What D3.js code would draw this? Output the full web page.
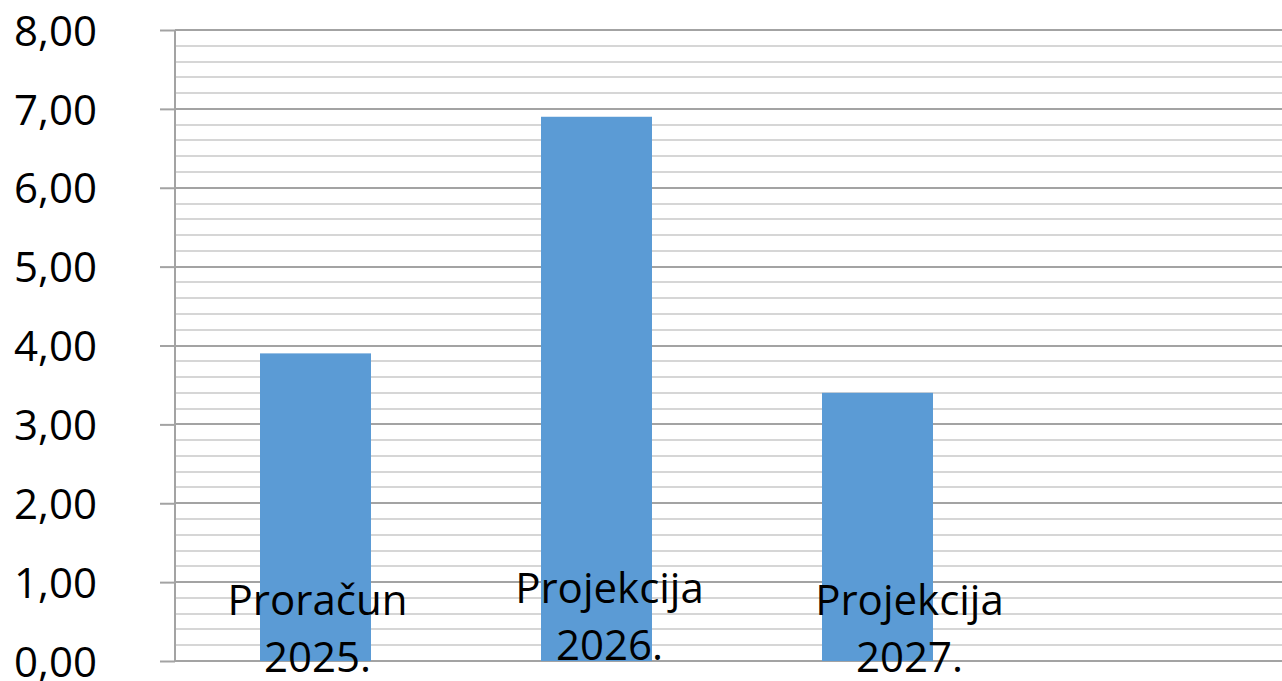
<!DOCTYPE html>
<html>
<head>
<meta charset="utf-8">
<script src="https://cdn.jsdelivr.net/npm/d3@7"></script>
<style>
  html, body { margin: 0; padding: 0; background: #ffffff; }
  svg { display: block; }
  text { font-family: "Open Sans", "Noto Sans", sans-serif; fill: #000; }
</style>
</head>
<body>
<svg id="chart" width="1282" height="681"></svg>
<script>
// ---- data ----
const categories = [["Proračun", "2025."], ["Projekcija", "2026."], ["Projekcija", "2027."]];
const values = [3.90, 6.90, 3.40];
const yTicks = [0, 1, 2, 3, 4, 5, 6, 7, 8];
const yTickLabels = ["0,00", "1,00", "2,00", "3,00", "4,00", "5,00", "6,00", "7,00", "8,00"];

// ---- layout (not data) ----
const W = 1282, H = 681;
const mLeft = 175, mTop = 30, mBottom = 661;
const step = 281;
const labelNudge = [{dx: 2, dy: 12}, {dx: 13, dy: 0}, {dx: 32, dy: 12}];

const svg = d3.select("#chart");
const keys = categories.map(c => c.join(" "));

const x = d3.scaleBand()
  .domain(keys)
  .range([mLeft, mLeft + step * keys.length])
  .paddingInner(170 / 281)
  .paddingOuter(85 / 281);

const y = d3.scaleLinear().domain([0, 8]).range([mBottom, mTop]);

// minor gridlines
const minor = d3.range(0, 8.0001, 0.2).filter(v => Math.abs(v - Math.round(v)) > 1e-6);
svg.append("g").selectAll("line").data(minor).join("line")
  .attr("x1", mLeft).attr("x2", W)
  .attr("y1", d => Math.round(y(d))).attr("y2", d => Math.round(y(d)))
  .attr("stroke", "#d6d6d6").attr("stroke-width", 2);

// major gridlines
svg.append("g").selectAll("line").data(yTicks).join("line")
  .attr("x1", mLeft).attr("x2", W)
  .attr("y1", d => Math.round(y(d))).attr("y2", d => Math.round(y(d)))
  .attr("stroke", "#a3a3a3").attr("stroke-width", 2);

// y axis
const yAxis = d3.axisLeft(y)
  .tickValues(yTicks)
  .tickFormat((d, i) => yTickLabels[i])
  .tickSize(15)
  .tickPadding(63);
const ga = svg.append("g").attr("transform", `translate(${mLeft},0)`).call(yAxis);
ga.select(".domain").attr("stroke", "#a3a3a3").attr("stroke-width", 2)
  .attr("d", `M0,${y(8)}V${y(0)}`);
ga.selectAll(".tick line").attr("stroke", "#a3a3a3").attr("stroke-width", 2);
ga.selectAll(".tick text")
  .attr("font-family", "'Open Sans', sans-serif")
  .attr("font-size", 42)
  .attr("fill", "#000")
  .attr("dy", "0.36em");

// bars
svg.append("g").selectAll("rect").data(values).join("rect")
  .attr("x", (d, i) => x(keys[i]))
  .attr("width", x.bandwidth())
  .attr("y", d => y(d))
  .attr("height", d => y(0) - y(d))
  .attr("fill", "#5b9bd5");

// category labels
const lg = svg.append("g");
categories.forEach((c, i) => {
  const cx = x(keys[i]) + x.bandwidth() / 2 + labelNudge[i].dx;
  const t = lg.append("text")
    .attr("text-anchor", "middle")
    .attr("font-size", 42)
    .attr("x", cx)
    .attr("y", 603 + labelNudge[i].dy);
  c.forEach((line, j) => {
    t.append("tspan").attr("x", cx).attr("dy", j === 0 ? 0 : 57).text(line);
  });
});
</script>
</body>
</html>
